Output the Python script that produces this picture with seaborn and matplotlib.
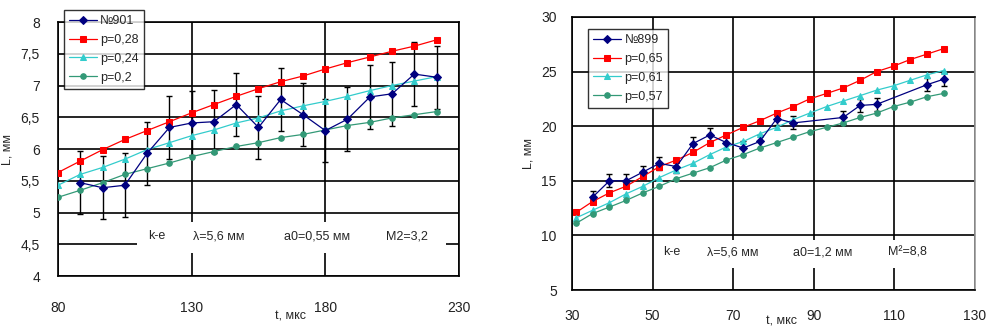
import numpy as np
import pandas as pd
import matplotlib
matplotlib.use('Agg')
import matplotlib.pyplot as plt
import seaborn as sns
from matplotlib.patches import Rectangle

# ---- left panel data (№901) ----
t_left = [80, 88.3, 96.7, 105, 113.3, 121.7, 130, 138.3, 146.7, 155,
          163.3, 171.7, 180, 188.3, 196.7, 205, 213.3, 221.7]
L_901 = [5.47, 5.39, 5.43, 5.93, 6.34, 6.41, 6.43, 6.70, 6.34,
         6.78, 6.54, 6.29, 6.47, 6.82, 6.87, 7.18, 7.13]
err_901 = 0.5
L_p028 = [5.63, 5.81, 5.99, 6.15, 6.29, 6.43, 6.57, 6.70, 6.83, 6.95,
          7.06, 7.15, 7.26, 7.36, 7.45, 7.54, 7.62, 7.72]
L_p024 = [5.43, 5.60, 5.71, 5.84, 5.99, 6.10, 6.21, 6.30, 6.41, 6.49,
          6.60, 6.68, 6.75, 6.83, 6.92, 7.00, 7.07, 7.14]
L_p020 = [5.24, 5.35, 5.47, 5.60, 5.69, 5.78, 5.88, 5.96, 6.04, 6.10,
          6.18, 6.23, 6.30, 6.37, 6.42, 6.49, 6.54, 6.59]

# ---- right panel data (№899) ----
t_right = [31, 35.1, 39.3, 43.4, 47.6, 51.7, 55.9, 60.0, 64.2, 68.3, 72.5, 76.6,
           80.8, 84.9, 89.0, 93.2, 97.3, 101.5, 105.6, 109.8, 113.9, 118.1, 122.2]
t_899 = [35.1, 39.3, 43.4, 47.6, 51.7, 55.9, 60.0, 64.2, 68.3, 72.5, 76.6,
         80.8, 84.9, 97.3, 101.5, 105.6, 118.1, 122.2]
L_899 = [13.5, 15.0, 15.0, 15.8, 16.6, 16.3, 18.4, 19.2, 18.5, 18.0, 18.6,
         20.7, 20.3, 20.8, 21.9, 22.0, 23.8, 24.3]
err_899 = 0.6
L_p065 = [12.1, 13.1, 13.9, 14.5, 15.4, 16.3, 16.9, 17.6, 18.5, 19.2, 19.9, 20.5,
          21.2, 21.8, 22.5, 23.0, 23.5, 24.2, 25.0, 25.5, 26.1, 26.6, 27.1]
L_p061 = [11.6, 12.3, 13.0, 13.8, 14.5, 15.3, 16.0, 16.6, 17.4, 18.1, 18.6, 19.3,
          19.9, 20.6, 21.2, 21.8, 22.3, 22.8, 23.3, 23.7, 24.2, 24.7, 25.1]
L_p057 = [11.1, 12.0, 12.6, 13.2, 13.9, 14.5, 15.2, 15.7, 16.2, 16.9, 17.4, 18.0,
          18.5, 19.0, 19.5, 19.9, 20.3, 20.8, 21.2, 21.8, 22.2, 22.7, 23.0]

C_EXP = '#000080'
C_RED = '#ff0000'
C_CYAN = '#33cccc'
C_GREEN = '#339977'

sns.set_style('white')
plt.rcParams['font.family'] = ['Liberation Sans', 'DejaVu Sans']
plt.rcParams['axes.unicode_minus'] = False


def comma(v, pos=None):
    return ('%g' % v).replace('.', ',')


def draw_panel(ax, t_exp, L_exp, err, t_mod, models, labels, markers, colors, xpad, ypad):
    ax.errorbar(t_exp, L_exp, yerr=err, fmt='none', ecolor='black',
                elinewidth=1.0, capsize=2.5, capthick=1.0, zorder=3)
    sns.lineplot(x=t_exp, y=L_exp, ax=ax, color=C_EXP, marker='D', markersize=4.5,
                 markeredgecolor=C_EXP, linewidth=0.9, label=labels[0],
                 sort=False, estimator=None, zorder=4)
    for vals, lab, mk, col in zip(models, labels[1:], markers, colors):
        sns.lineplot(x=t_mod, y=vals, ax=ax, color=col, marker=mk, markersize=4,
                     markeredgecolor=col, linewidth=0.9, label=lab,
                     sort=False, estimator=None, zorder=3)
    ax.grid(True, color='black', linewidth=1.2)
    ax.set_axisbelow(True)
    for sp in ax.spines.values():
        sp.set_color('black')
        sp.set_linewidth(1.2)
    ax.tick_params(axis='both', direction='out', length=4, width=1.2,
                   color='black', labelsize=10, labelcolor='#222222')
    ax.tick_params(axis='x', pad=xpad)
    ax.tick_params(axis='y', pad=ypad)
    ax.yaxis.set_major_formatter(matplotlib.ticker.FuncFormatter(comma))
    ax.set_xlabel('t, мкс', fontsize=9)
    ax.set_ylabel('L, мм', fontsize=9)


fig = plt.figure(figsize=(9.9, 3.3), dpi=100)
ax1 = fig.add_axes([0.0586, 0.1636, 0.405, 0.7697])
ax2 = fig.add_axes([0.5778, 0.1212, 0.407, 0.8273])

draw_panel(ax1, t_left[1:], L_901, err_901, t_left,
           [L_p028, L_p024, L_p020],
           ['№901', 'p=0,28', 'p=0,24', 'p=0,2'],
           ['s', '^', 'o'], [C_RED, C_CYAN, C_GREEN], xpad=14, ypad=9)
ax1.set_xlim(80, 230)
ax1.set_ylim(4, 8)
ax1.set_xticks([80, 130, 180, 230])
ax1.set_yticks(np.arange(4, 8.01, 0.5))
ax1.xaxis.set_label_coords(0.58, -0.135)
ax1.yaxis.set_label_coords(-0.11, 0.5)
ax1.add_patch(Rectangle((109.5, 4.37), 115.5, 0.48, facecolor='white',
                        edgecolor='none', zorder=1.5))
for tx, s in [(113.6, 'k-e'), (130.4, 'λ=5,6 мм'), (164.7, 'a0=0,55 мм'),
              (202.8, 'M2=3,2')]:
    ax1.text(tx, 4.625, s, fontsize=9, va='center', ha='left', zorder=5)
leg1 = ax1.legend(loc='upper left', bbox_to_anchor=(0.015, 1.047), fontsize=9,
                  frameon=True, fancybox=False, edgecolor='black',
                  handlelength=2.2, labelspacing=0.55, borderpad=0.4,
                  handletextpad=0.3, borderaxespad=0)
leg1.get_frame().set_linewidth(1.0)

draw_panel(ax2, t_899, L_899, err_899, t_right,
           [L_p065, L_p061, L_p057],
           ['№899', 'p=0,65', 'p=0,61', 'p=0,57'],
           ['s', '^', 'o'], [C_RED, C_CYAN, C_GREEN], xpad=10, ypad=7)
ax2.set_xlim(30, 130)
ax2.set_ylim(5, 30)
ax2.set_xticks([30, 50, 70, 90, 110, 130])
ax2.set_yticks([5, 10, 15, 20, 25, 30])
ax2.spines['right'].set_color('#999999')
ax2.xaxis.set_label_coords(0.52, -0.092)
ax2.yaxis.set_label_coords(-0.092, 0.5)
ax2.add_patch(Rectangle((50.5, 7.0), 72, 2.6, facecolor='white',
                        edgecolor='none', zorder=1.5))
for tx, s in [(52.6, 'k-e'), (63.5, 'λ=5,6 мм'), (84.8, 'a0=1,2 мм'),
              (108.3, 'M²=8,8')]:
    ax2.text(tx, 8.48, s, fontsize=9, va='center', ha='left', zorder=5)
leg2 = ax2.legend(loc='upper left', bbox_to_anchor=(0.04, 0.956), fontsize=9,
                  frameon=True, fancybox=False, edgecolor='black',
                  handlelength=2.2, labelspacing=0.55, borderpad=0.4,
                  handletextpad=0.3, borderaxespad=0)
leg2.get_frame().set_linewidth(1.0)

fig.savefig('out.png', dpi=100)
